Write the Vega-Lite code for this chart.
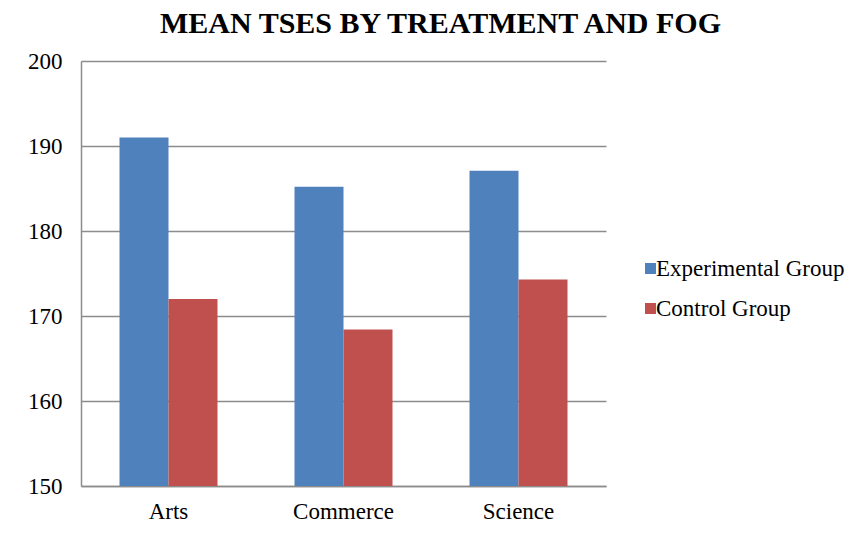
{
  "$schema": "https://vega.github.io/schema/vega-lite/v6.json",
  "autosize": {"type": "none"},
  "width": 525,
  "height": 425,
  "padding": {"left": 81, "top": 61, "right": 252, "bottom": 48},
  "background": "white",
  "title": {
    "text": "MEAN TSES BY TREATMENT AND FOG",
    "font": "Liberation Serif",
    "fontSize": 30,
    "fontWeight": "bold",
    "color": "#000000",
    "anchor": "middle",
    "dx": 97,
    "offset": 11
  },
  "data": {
    "values": [
      {"stream": "Arts", "group": "Experimental Group", "mean": 191.0},
      {"stream": "Arts", "group": "Control Group", "mean": 172.0},
      {"stream": "Commerce", "group": "Experimental Group", "mean": 185.2},
      {"stream": "Commerce", "group": "Control Group", "mean": 168.4},
      {"stream": "Science", "group": "Experimental Group", "mean": 187.1},
      {"stream": "Science", "group": "Control Group", "mean": 174.3}
    ]
  },
  "mark": {"type": "bar"},
  "encoding": {
    "x": {
      "field": "stream",
      "type": "nominal",
      "sort": ["Arts", "Commerce", "Science"],
      "scale": {"paddingInner": 0.44, "paddingOuter": 0.22},
      "axis": {
        "title": null,
        "labelAngle": 0,
        "labelFont": "Liberation Serif",
        "labelFontSize": 23,
        "labelColor": "#000000",
        "labelPadding": 14,
        "ticks": false,
        "domainColor": "#8c8c8c",
        "domainWidth": 1.5
      }
    },
    "xOffset": {
      "field": "group",
      "type": "nominal",
      "sort": ["Experimental Group", "Control Group"],
      "scale": {"paddingInner": 0, "paddingOuter": 0}
    },
    "y": {
      "field": "mean",
      "type": "quantitative",
      "scale": {"domain": [150, 200], "zero": false, "nice": false},
      "axis": {
        "title": null,
        "values": [150, 160, 170, 180, 190, 200],
        "labelFont": "Liberation Serif",
        "labelFontSize": 23,
        "labelColor": "#000000",
        "labelPadding": 19,
        "ticks": false,
        "grid": true,
        "gridColor": "#8c8c8c",
        "gridWidth": 1.5,
        "domainColor": "#8c8c8c",
        "domainWidth": 1.5
      }
    },
    "y2": {"datum": 150},
    "color": {
      "field": "group",
      "type": "nominal",
      "sort": ["Experimental Group", "Control Group"],
      "scale": {"domain": ["Experimental Group", "Control Group"], "range": ["#4F81BD", "#C0504D"]},
      "legend": {
        "title": null,
        "orient": "none",
        "legendX": 558,
        "legendY": 196,
        "padding": 0,
        "symbolType": "square",
        "symbolSize": 121,
        "symbolStrokeWidth": 0,
        "labelFont": "Liberation Serif",
        "labelFontSize": 23,
        "labelLimit": 300,
        "labelColor": "#000000",
        "labelOffset": -6,
        "rowPadding": 16
      }
    }
  },
  "config": {
    "view": {"stroke": null}
  }
}
